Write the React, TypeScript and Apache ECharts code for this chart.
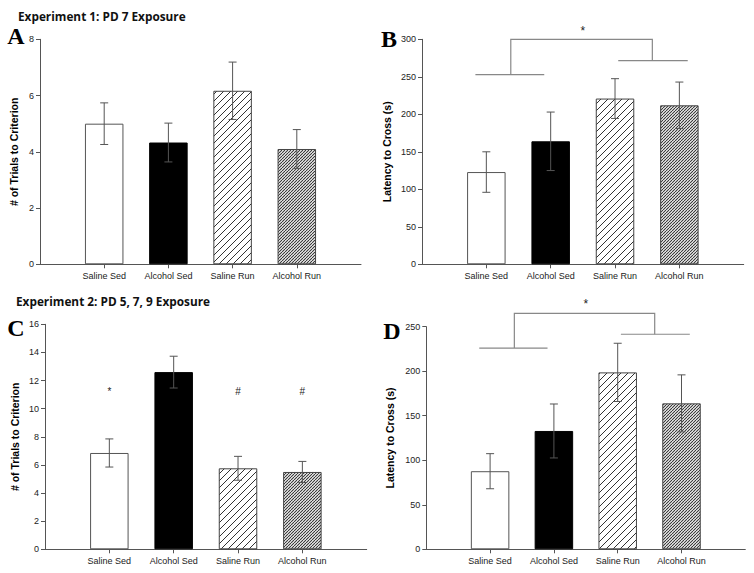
import React, { useEffect, useRef } from 'react';
import * as echarts from 'echarts';

const categories = ['Saline Sed', 'Alcohol Sed', 'Saline Run', 'Alcohol Run'];

const aMeans = [5.0, 4.33, 6.17, 4.1];
const aErrs = [0.74, 0.69, 1.02, 0.69];
const bMeans = [123, 164, 221, 212];
const bErrs = [27, 39, 26.5, 31];
const cMeans = [6.85, 12.6, 5.76, 5.5];
const cErrs = [1.0, 1.13, 0.85, 0.75];
const dMeans = [87.7, 132.9, 198.7, 163.9];
const dErrs = [19.7, 30.3, 32.7, 32];

const cMarks = ['*', '', '#', '#'];
const cMarkY = 11.2;

// bracket: [left line y, top line y, right line y, star y]
const bBracketY = [253, 300, 271.5, 311];
const dBracketY = [226, 265, 241.5, 276];
// bracket x (in category-slot units 0..5): leftFrom, leftTo, leftMid, rightMid, rightFrom, rightTo, star
const bracketX = [0.83, 1.9, 1.38, 3.58, 3.05, 4.13, 2.5];

const yMaxes = [8, 300, 16, 250];
const yIntervals = [2, 50, 2, 50];
const yNames = ['# of Trials to Criterion', 'Latency to Cross (s)', '# of Trials to Criterion', 'Latency to Cross (s)'];
const panelLetters = ['A', 'B', 'C', 'D'];
const titles = ['Experiment 1: PD 7 Exposure', 'Experiment 2: PD 5, 7, 9 Exposure'];

const SANS = '"Liberation Sans", Arial, sans-serif';

function makeHatch(size: number, lw: number, color: string) {
  const c = document.createElement('canvas');
  c.width = size;
  c.height = size;
  const ctx = c.getContext('2d')!;
  ctx.fillStyle = '#fff';
  ctx.fillRect(0, 0, size, size);
  ctx.strokeStyle = color;
  ctx.lineWidth = lw;
  for (const k of [-size, 0, size]) {
    ctx.beginPath();
    ctx.moveTo(k, size);
    ctx.lineTo(k + size, 0);
    ctx.stroke();
  }
  return c;
}

export default function App() {
  const ref = useRef<HTMLDivElement>(null);
  useEffect(() => {
    if (!ref.current) return;
    const chart = echarts.init(ref.current, null, { renderer: 'svg' });
    const wide = makeHatch(7, 1, '#333');
    const dense = makeHatch(3, 1.1, '#333');
    const barStyles = [
      { color: '#ffffff', borderColor: '#555', borderWidth: 1 },
      { color: '#000000', borderColor: '#000', borderWidth: 1 },
      { color: { image: wide, repeat: 'repeat', imageWidth: 7, imageHeight: 7 }, borderColor: '#444', borderWidth: 1 },
      { color: { image: dense, repeat: 'repeat', imageWidth: 3, imageHeight: 3 }, borderColor: '#444', borderWidth: 1 },
    ];
    const grids = [
      { left: 40, top: 39.3, width: 321, height: 225 },
      { left: 422, top: 39.3, width: 321.7, height: 225 },
      { left: 45, top: 324.3, width: 321.7, height: 225 },
      { left: 426.3, top: 326.7, width: 319, height: 222.6 },
    ];
    const nameGaps = [21, 30, 25, 31];
    const means = [aMeans, bMeans, cMeans, dMeans];
    const errs = [aErrs, bErrs, cErrs, dErrs];
    const slotCats = ['', ...categories, ''];
    const axisColor = '#555';

    const xAxis: any[] = [];
    const yAxis: any[] = [];
    const series: any[] = [];
    grids.forEach((g, gi) => {
      xAxis.push({
        type: 'category',
        gridIndex: gi,
        data: slotCats,
        boundaryGap: false,
        axisLine: { lineStyle: { color: axisColor, width: 1 } },
        axisTick: { show: true, length: 4, interval: (i: number) => i >= 1 && i <= 4, lineStyle: { color: axisColor } },
        axisLabel: { interval: 0, fontSize: 9, color: '#222', fontFamily: SANS, margin: 7 },
        splitLine: { show: false },
      });
      xAxis.push({ type: 'value', gridIndex: gi, min: 0, max: 5, show: false });
      yAxis.push({
        type: 'value',
        gridIndex: gi,
        min: 0,
        max: yMaxes[gi],
        interval: yIntervals[gi],
        name: yNames[gi],
        nameLocation: 'middle',
        nameGap: nameGaps[gi],
        nameTextStyle: { fontSize: 10.5, fontWeight: 'bold', color: '#000', fontFamily: SANS },
        axisLine: { show: true, lineStyle: { color: axisColor, width: 1 } },
        axisTick: { show: true, length: 4, lineStyle: { color: axisColor } },
        axisLabel: { fontSize: 9, color: '#222', fontFamily: SANS, margin: 6 },
        splitLine: { show: false },
      });
      series.push({
        type: 'bar',
        xAxisIndex: gi * 2,
        yAxisIndex: gi,
        barWidth: 38.5,
        data: ['-', ...means[gi].map((v, i) => ({ value: v, itemStyle: barStyles[i] })), '-'],
        z: 2,
      });
      series.push({
        type: 'custom',
        xAxisIndex: gi * 2,
        yAxisIndex: gi,
        z: 5,
        encode: { x: 0, y: [1, 2] },
        data: means[gi].map((m, i) => [i + 1, m - errs[gi][i], m + errs[gi][i]]),
        renderItem: (params: any, api: any) => {
          const x = api.value(0);
          const lo = api.coord([x, api.value(1)]);
          const hi = api.coord([x, api.value(2)]);
          const st = { stroke: '#555', lineWidth: 1 };
          const cap = 4;
          return {
            type: 'group',
            children: [
              { type: 'line', shape: { x1: lo[0], y1: lo[1], x2: hi[0], y2: hi[1] }, style: st },
              { type: 'line', shape: { x1: hi[0] - cap, y1: hi[1], x2: hi[0] + cap, y2: hi[1] }, style: st },
              { type: 'line', shape: { x1: lo[0] - cap, y1: lo[1], x2: lo[0] + cap, y2: lo[1] }, style: st },
            ],
          };
        },
      });
    });

    // markers in panel C
    series.push({
      type: 'custom',
      xAxisIndex: 4,
      yAxisIndex: 2,
      z: 6,
      data: cMarks.map((m, i) => [i + 1, cMarkY]),
      renderItem: (params: any, api: any) => {
        const p = api.coord([api.value(0), api.value(1)]);
        return {
          type: 'text',
          x: p[0],
          y: p[1],
          style: { text: cMarks[params.dataIndex], fill: '#222', fontSize: 10, fontFamily: SANS, align: 'center', verticalAlign: 'middle' },
        };
      },
    });

    // brackets in B and D
    [[1, bBracketY], [3, dBracketY]].forEach(([gi, by]: any) => {
      series.push({
        type: 'custom',
        xAxisIndex: gi * 2 + 1,
        yAxisIndex: gi,
        z: 6,
        clip: false,
        data: [[bracketX[6], by[3]]],
        renderItem: (params: any, api: any) => {
          const c = (x: number, y: number) => api.coord([x, y]);
          const st = { stroke: '#888', lineWidth: 1.2, fill: null };
          const [lf, lt, lm, rm, rf, rt, sx] = bracketX;
          const s = c(sx, by[3]);
          return {
            type: 'group',
            children: [
              { type: 'polyline', shape: { points: [c(lf, by[0]), c(lt, by[0])] }, style: st },
              { type: 'polyline', shape: { points: [c(lm, by[0]), c(lm, by[1]), c(rm, by[1]), c(rm, by[2])] }, style: st },
              { type: 'polyline', shape: { points: [c(rf, by[2]), c(rt, by[2])] }, style: st },
              { type: 'text', x: s[0], y: s[1], style: { text: '*', fill: '#222', fontSize: 12, fontFamily: SANS, align: 'center', verticalAlign: 'middle' } },
            ],
          };
        },
      });
    });

    const letterPos = [[16, 48], [389, 51], [16, 340], [392, 343]];
    const graphic: any[] = [];
    panelLetters.forEach((l, i) => {
      graphic.push({
        type: 'text',
        x: letterPos[i][0],
        y: letterPos[i][1],
        style: { text: l, fontFamily: '"Liberation Serif", serif', fontWeight: 'bold', fontSize: 24, fill: '#000', align: 'center', verticalAlign: 'bottom' },
      });
    });
    graphic.push({
      type: 'text', x: 18, y: 15.7,
      style: { text: titles[0], fontFamily: '"Open Sans", sans-serif', fontWeight: 'bold', fontSize: 11.8, fill: '#111', align: 'left', verticalAlign: 'middle' },
    });
    graphic.push({
      type: 'text', x: 16, y: 300.7,
      style: { text: titles[1], fontFamily: '"Open Sans", sans-serif', fontWeight: 'bold', fontSize: 11.8, fill: '#111', align: 'left', verticalAlign: 'middle' },
    });

    chart.setOption({
      animation: false,
      backgroundColor: '#ffffff',
      grid: grids.map((g) => ({ ...g, containLabel: false })),
      xAxis,
      yAxis,
      series,
      graphic,
    });
    return () => chart.dispose();
  }, []);
  return <div ref={ref} style={{ position: 'absolute', left: 0, top: 0, width: 754, height: 573 }} />;
}
